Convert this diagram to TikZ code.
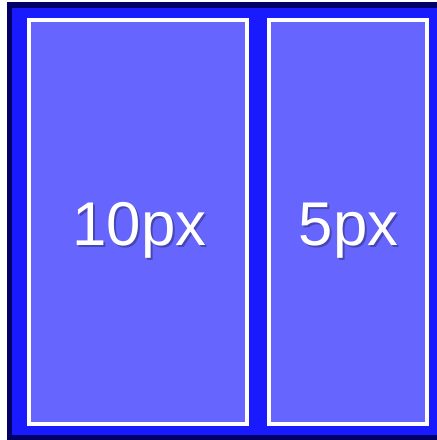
\documentclass[tikz,border=0pt]{standalone}
\usepackage{fontspec}
\setmainfont{Liberation Sans}
\usepackage{tikz}
\usetikzlibrary{positioning}

\definecolor{framenavy}{RGB}{0,0,102}
\definecolor{framefill}{RGB}{26,26,255}
\definecolor{panelfill}{RGB}{102,102,255}

\begin{document}
\begin{tikzpicture}[x=1bp, y=-1bp,
    panel/.style={draw=white, line width=4bp, fill=panelfill},
    pxlabel/.style={anchor=base, inner sep=0pt, text=white, font=\fontsize{62}{64}\selectfont},
    pxshadow/.style={pxlabel, text=black, text opacity=0.3}]
  % page area
  \clip (0,0) rectangle (437,440);
  \fill[white] (0,0) rectangle (437,440);
  % outer frame
  \draw[draw=framenavy, line width=5.5bp, fill=framefill] (9.5,5) rectangle (445,437.5);
  % two panels
  \draw[panel] (29,20) rectangle (247,423.5);
  \draw[panel] (269,20) rectangle (427,423.5);
  % labels
  \node[pxshadow] (tenshadow) at (141.5,247) {10px};
  \node[pxshadow] (fiveshadow) at (350.5,247) {5px};
  \node[pxlabel] (ten) at (139.5,245) {10px};
  \node[pxlabel] (five) at (348.5,245) {5px};
\end{tikzpicture}
\end{document}
